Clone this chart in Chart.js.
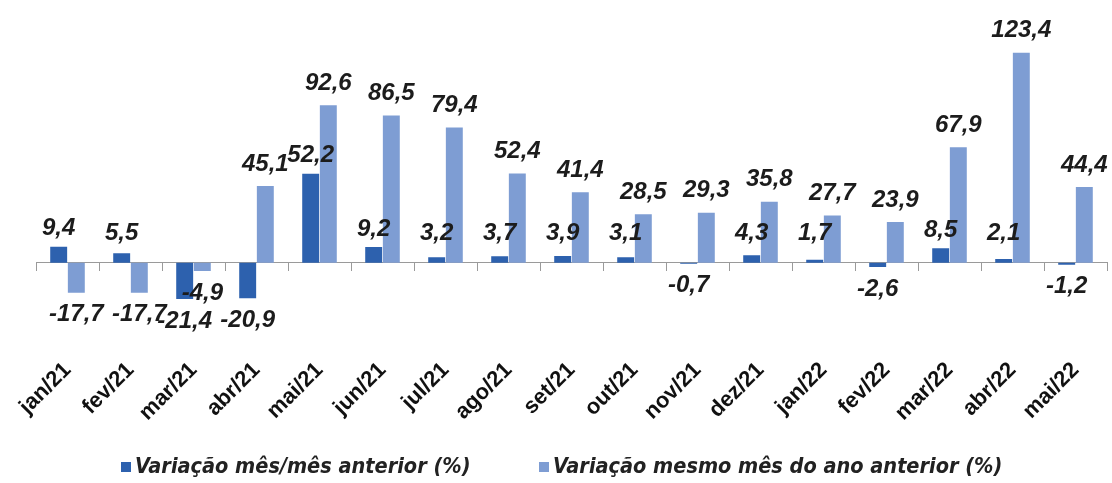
<!DOCTYPE html>
<html lang="pt-BR">
<head>
<meta charset="UTF-8">
<script src="https://cdn.jsdelivr.net/npm/chart.js"></script>
<title>Variação mensal</title>
<style>
  body { margin: 0; background: #fff; }
  #wrap { position: relative; width: 1112px; height: 483px; }
  .item { position: absolute; top: 453px; font: italic bold 21.5px "DejaVu Sans Condensed", "Liberation Sans", sans-serif; color: #222; white-space: nowrap; }
  .item span { display: inline-block; width: 10px; height: 10px; margin-right: 4px; vertical-align: 1px; }
</style>
</head>
<body>
<div id="wrap">
  <canvas id="grafico" width="1112" height="483"></canvas>
  <div class="item" style="left:121px"><span style="background:#2d61ae"></span>Variação mês/mês anterior (%)</div>
  <div class="item" style="left:539px"><span style="background:#7e9dd3"></span>Variação mesmo mês do ano anterior (%)</div>
</div>

<script>
// meses
var meses = ['jan/21', 'fev/21', 'mar/21', 'abr/21', 'mai/21', 'jun/21', 'jul/21', 'ago/21', 'set/21',
             'out/21', 'nov/21', 'dez/21', 'jan/22', 'fev/22', 'mar/22', 'abr/22', 'mai/22'];

// variação mês/mês anterior (%)
var mesAnterior = [9.4, 5.5, -21.4, -20.9, 52.2, 9.2, 3.2, 3.7, 3.9, 3.1, -0.7, 4.3, 1.7, -2.6, 8.5, 2.1, -1.2];

// variação mesmo mês do ano anterior (%)
var anoAnterior = [-17.7, -17.7, -4.9, 45.1, 92.6, 86.5, 79.4, 52.4, 41.4, 28.5, 29.3, 35.8, 27.7, 23.9, 67.9, 123.4, 44.4];

// rótulos dos valores em cima/baixo das barras
var rotulos = {
    id: 'rotulos',
    afterDatasetsDraw: function (chart) {
        var ctx = chart.ctx;
        var zero = chart.scales.y.getPixelForValue(0);
        ctx.save();
        ctx.font = 'italic bold 24px "Liberation Sans", Arial, sans-serif';
        ctx.fillStyle = '#1c1c1c';
        ctx.textAlign = 'center';
        ctx.textBaseline = 'middle';
        chart.data.datasets.forEach(function (ds, i) {
            chart.getDatasetMeta(i).data.forEach(function (barra, j) {
                var v = ds.data[j];
                var y;
                if (v < 0) {
                    y = barra.y + 22;
                } else if (i === 0) {
                    y = Math.min(barra.y - 18, zero - 29);
                } else {
                    y = barra.y - 22;
                }
                ctx.fillText(v.toFixed(1).replace('.', ','), barra.x, y);
            });
        });
        ctx.restore();
    }
};

var config = {
    type: 'bar',
    data: {
        labels: meses,
        datasets: [{
            label: 'Variação mês/mês anterior (%)',
            data: mesAnterior,
            backgroundColor: '#2d61ae',
            categoryPercentage: 0.56,
            barPercentage: 0.96
        },
        {
            label: 'Variação mesmo mês do ano anterior (%)',
            data: anoAnterior,
            backgroundColor: '#7e9dd3',
            categoryPercentage: 0.56,
            barPercentage: 0.96
        }]
    },
    options: {
        responsive: false,
        animation: false,
        layout: {
            padding: { left: 36, right: 5, top: 16, bottom: 47 }
        },
        plugins: {
            legend: { display: false },
            tooltip: { enabled: false }
        },
        scales: {
            y: {
                display: false,
                min: -45,
                max: 145
            },
            x: {
                grid: { display: false },
                border: { display: false },
                ticks: {
                    minRotation: 45,
                    maxRotation: 45,
                    padding: 10,
                    color: '#111',
                    font: { family: '"Liberation Sans", Arial, sans-serif', size: 22, weight: 'bold' }
                }
            },
            x2: {
                type: 'category',
                labels: meses,
                position: { y: 0 },
                offset: true,
                ticks: { display: false },
                grid: { offset: true, drawOnChartArea: false, drawTicks: true, tickLength: 8, color: '#9a9a9a' },
                border: { display: true, color: '#9a9a9a' }
            }
        }
    },
    plugins: [rotulos]
};

var grafico = new Chart(document.getElementById('grafico'), config);
</script>
</body>
</html>
